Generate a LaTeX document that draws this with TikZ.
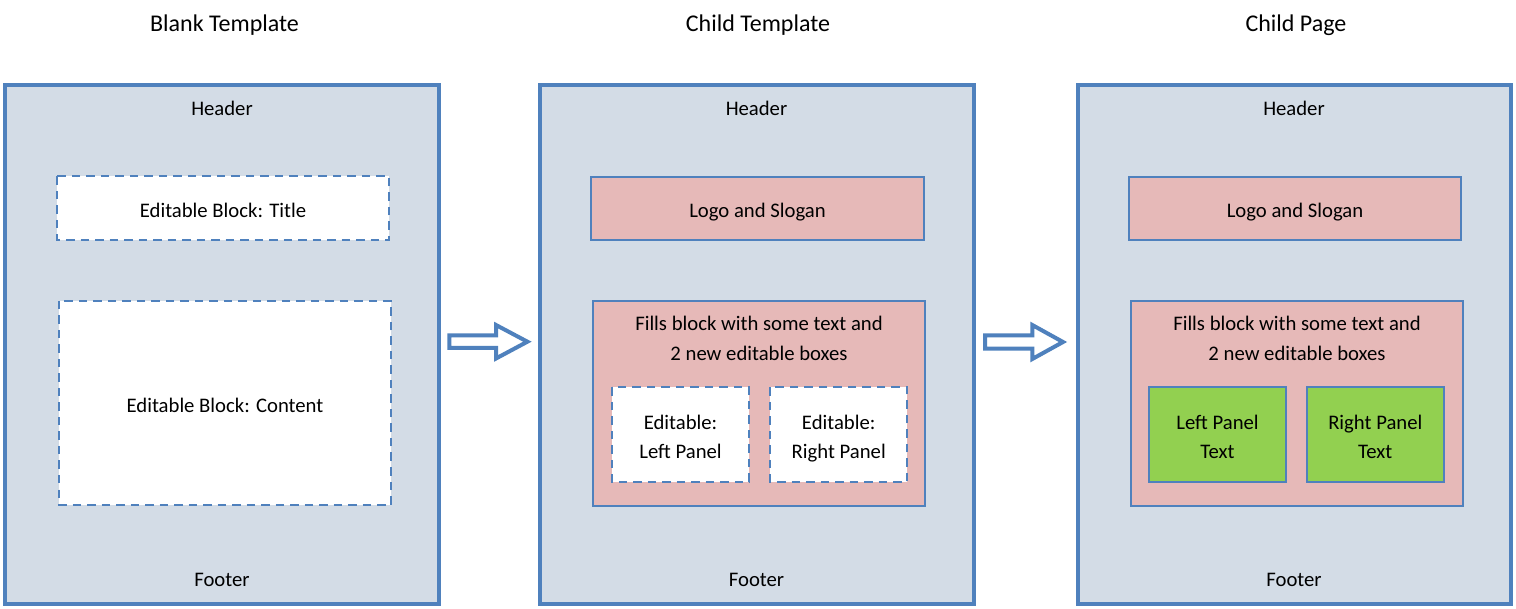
\documentclass[tikz,border=0pt]{standalone}
\usepackage{fontspec}
\setmainfont{Carlito}
\definecolor{pborder}{HTML}{4F81BD}
\definecolor{pfill}{HTML}{D3DCE6}
\definecolor{pink}{HTML}{E6B9B8}
\definecolor{lgreen}{HTML}{92D050}
\tikzset{
  panel/.style={draw=pborder, line width=4pt, fill=pfill},
  solidbox/.style={draw=pborder, line width=2pt},
  dashbox/.style={draw=pborder, line width=2pt, fill=white, dash pattern=on 8.5pt off 6pt},
  txt/.style={inner sep=0pt, anchor=base, yshift=-1pt, font=\fontsize{20.7}{30}\selectfont},
  ttl/.style={inner sep=0pt, anchor=base, yshift=-0.5pt, font=\fontsize{24}{30}\selectfont},
  blockarrow/.style={draw=pborder, line width=4pt, fill=white, line join=miter},
}
\begin{document}
\begin{tikzpicture}[x=1pt, y=-1pt]
\useasboundingbox (0,0) rectangle (1516,609);

% titles
\node[ttl] (t1) at (224.5,30.7) {Blank Template};
\node[ttl] (t2) at (758,30.7) {Child Template};
\node[ttl] (t3) at (1296,30.7) {Child Page};

% panels
\path[panel] (5.3,85.3) rectangle (439,604) coordinate (p1);
\path[panel] (539.5,85.3) rectangle (973.5,604) coordinate (p2);
\path[panel] (1077.5,85.3) rectangle (1511,604) coordinate (p3);

% headers / footers
\node[txt] (h1) at (222,115) {Header};
\node[txt] (f1) at (222,585) {Footer};
\node[txt] (h2) at (756.5,115) {Header};
\node[txt] (f2) at (756.5,585) {Footer};
\node[txt] (h3) at (1294,115) {Header};
\node[txt] (f3) at (1294,585) {Footer};

% panel 1
\path[dashbox] (57,176.5) rectangle (389.3,240);
\node[txt] (b1t) at (223,216.7) {Editable Block: Title};
\path[dashbox] (59,301) rectangle (391,505);
\node[txt] (b1c) at (225,412) {Editable Block: Content};

% panel 2
\path[solidbox, fill=pink] (591,177) rectangle (924,240);
\node[txt] (l2) at (757.5,217) {Logo and Slogan};
\path[solidbox, fill=pink] (593.3,301) rectangle (925,505.5);
\node[txt] (fa2) at (759,330) {Fills block with some text and};
\node[txt] (fb2) at (759,360) {2 new editable boxes};
\path[dashbox] (611.7,387.3) rectangle (749.3,481.7);
\node[txt] (el1) at (680.5,428.3) {Editable:};
\node[txt] (el2) at (680.5,457.7) {Left Panel};
\path[dashbox] (770,387.3) rectangle (907.3,481.7);
\node[txt] (er1) at (838.7,428.3) {Editable:};
\node[txt] (er2) at (838.7,457.7) {Right Panel};

% panel 3
\path[solidbox, fill=pink] (1129,177) rectangle (1461,240);
\node[txt] (l3) at (1295,217) {Logo and Slogan};
\path[solidbox, fill=pink] (1131,301) rectangle (1463.3,506);
\node[txt] (fa3) at (1297,330) {Fills block with some text and};
\node[txt] (fb3) at (1297,360) {2 new editable boxes};
\path[solidbox, fill=lgreen] (1149,386.7) rectangle (1286,481.7);
\node[txt] (gl1) at (1217.5,428.3) {Left Panel};
\node[txt] (gl2) at (1217.5,457.7) {Text};
\path[solidbox, fill=lgreen] (1306.7,386.7) rectangle (1444,481.7);
\node[txt] (gr1) at (1375.3,428.3) {Right Panel};
\node[txt] (gr2) at (1375.3,457.7) {Text};

% block arrows
\path[blockarrow] (449.3,335.3) -- (496,335.3) -- (496,325) -- (527.4,341.7)
  -- (496,358.5) -- (496,348) -- (449.3,348) -- cycle;
\path[blockarrow] (985,335.3) -- (1032.3,335.3) -- (1032.3,325) -- (1063,342)
  -- (1032.3,359) -- (1032.3,348.7) -- (985,348.7) -- cycle;
\end{tikzpicture}
\end{document}
